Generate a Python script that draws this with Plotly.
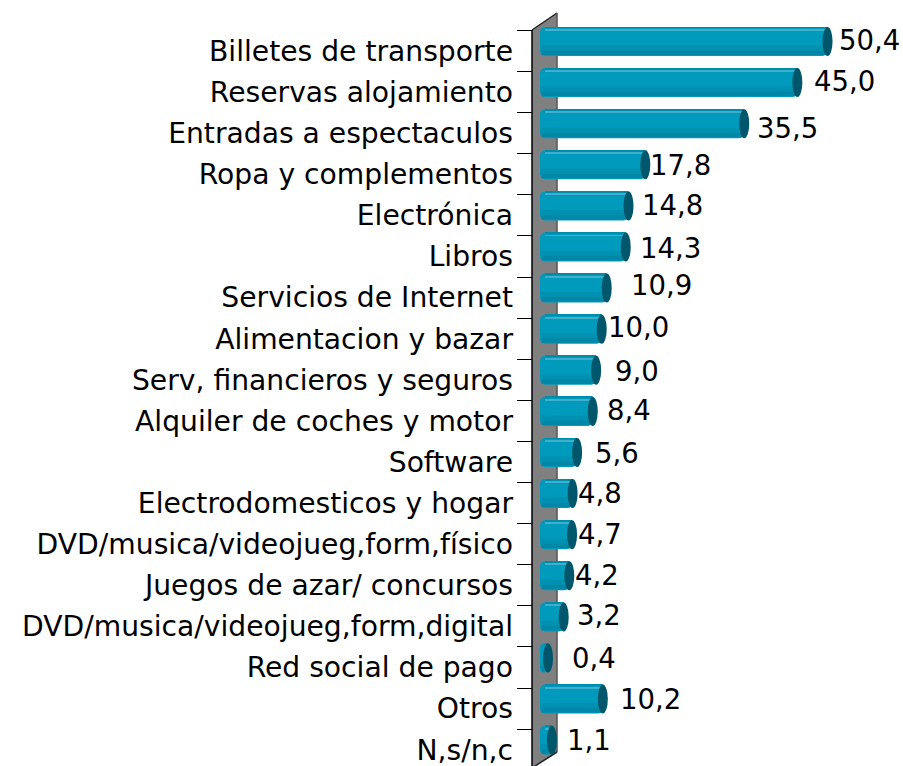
import plotly.graph_objects as go

categories = ["Billetes de transporte", "Reservas alojamiento", "Entradas a espectaculos",
              "Ropa y complementos", "Electrónica", "Libros", "Servicios de Internet",
              "Alimentacion y bazar", "Serv, financieros y seguros", "Alquiler de coches y motor",
              "Software", "Electrodomesticos y hogar", "DVD/musica/videojueg,form,físico",
              "Juegos de azar/ concursos", "DVD/musica/videojueg,form,digital",
              "Red social de pago", "Otros", "N,s/n,c"]
values = [50.4, 45.0, 35.5, 17.8, 14.8, 14.3, 10.9, 10.0, 9.0, 8.4, 5.6, 4.8, 4.7, 4.2, 3.2, 0.4, 10.2, 1.1]

# label nudges in pixels (hand placed in the original chart)
label_dx = [10, 16.1, 11.3, 3.2, 12, 12.8, 22.8, 4.8, 17.4, 13.7, 16.4, 3.9, 5.4, 5.2, 12.8, 22.5, 15.7, 14.5]
label_dy = [-1.5, -1.5, 4, 0, -1, 1, -3, -2, 1, -1, 0, -0.6, -1, -1, -2, 0, 0, 0]

OFF = 0                    # body margin is removed below
W, H = 903, 766
X0, PXU = 545.8 - OFF, 5.59      # pixel of value 0, pixels per unit
BAND = 41.1
BAR_Y0, LAB_Y0 = 41.5 - OFF, 51.0 - OFF
BAR_H = 29.0
FONT = "DejaVu Sans"
FONT_SIZE = 28.2

def px(x):
    return (x - OFF) / W
def py(y):
    return 1 - (y - OFF) / H

idx = list(range(len(categories)))
fig = go.Figure()
base = (540 - OFF - X0) / PXU

def band(top, bottom, color, corner=0, start=base):
    fig.add_trace(go.Bar(
        y=idx, x=[v - start for v in values], base=start, orientation="h", yaxis="y2",
        width=(bottom - top) / BAND, offset=top / BAND,
        marker=dict(color=color, line_width=0, cornerradius=corner),
        hoverinfo="skip", showlegend=False))

band(-14.5, 14.5, "#009ABC", corner=5)
band(4, 9, "#0090B0", start=base + 0.1)
band(9, 13.5, "#0086A6", start=base + 0.3)
band(-14.5, -13.5, "#008CAC", start=base + 0.9)
band(-12, -11, "#3FAFCB", start=base + 0.9)

# invisible trace carrying the category axis
fig.add_trace(go.Scatter(x=values, y=categories, mode="none", yaxis="y", showlegend=False, hoverinfo="skip"))

shapes = [
    dict(type="path", xref="paper", yref="paper", layer="below",
         path=f"M {px(532)} {py(30)} L {px(557)} {py(13)} L {px(557)} {py(752)} L {px(532)} {py(768)} Z",
         fillcolor="#808080", line=dict(width=0)),
    dict(type="line", xref="paper", yref="paper", layer="below",
         x0=px(532), y0=py(30), x1=px(557), y1=py(13), line=dict(color="#222222", width=1.5)),
    dict(type="line", xref="paper", yref="paper", layer="below",
         x0=px(532), y0=py(30), x1=px(532), y1=py(768), line=dict(color="#000000", width=1.5)),
    dict(type="line", xref="paper", yref="paper", layer="below",
         x0=px(557), y0=py(13), x1=px(557), y1=py(752), line=dict(color="#555555", width=1.5)),
    dict(type="line", xref="paper", yref="paper", layer="below",
         x0=px(532), y0=py(768), x1=px(557), y1=py(752), line=dict(color="#222222", width=1.5)),
]
for i, v in enumerate(values):
    hw = 5.0 / PXU
    hh = 14.5 / BAND
    shapes.append(dict(type="circle", xref="x", yref="y2", layer="above",
                       x0=v - hw, x1=v + hw, y0=i - hh, y1=i + hh,
                       fillcolor="#00566A", line=dict(width=0)))

annotations = []
for i, v in enumerate(values):
    annotations.append(dict(
        x=v, y=i, xref="x", yref="y2", xanchor="left", yanchor="middle",
        text=f"{v:.1f}".replace(".", ","), showarrow=False, borderpad=0,
        xshift=label_dx[i], yshift=-label_dy[i],
        font=dict(family=FONT, size=27.5, color="#000000")))

fig.update_layout(
    width=W, height=H, margin=dict(l=0, r=0, t=0, b=0, pad=0),
    paper_bgcolor="white", plot_bgcolor="white", barmode="overlay",
    showlegend=False, shapes=shapes, annotations=annotations,
    font=dict(family=FONT, color="#000000"),
    xaxis=dict(range=[-X0 / PXU, (W - X0) / PXU], visible=False, fixedrange=True),
    yaxis=dict(type="category", categoryorder="array", categoryarray=categories,
               range=[(H - LAB_Y0) / BAND, -LAB_Y0 / BAND],
               anchor="free", position=px(532), side="left",
               tickson="boundaries", ticks="outside", ticklen=15, tickwidth=1, tickcolor="#000000",
               showline=False, showgrid=False, zeroline=False,
               ticklabelstandoff=19, tickfont=dict(family=FONT, size=FONT_SIZE, color="#000000"),
               automargin=False),
    yaxis2=dict(overlaying="y", range=[(H - BAR_Y0) / BAND, -BAR_Y0 / BAND], visible=False),
)
fig.write_html("out.html", config=dict(displayModeBar=False),
               post_script="document.documentElement.style.overflow='hidden';document.body.style.margin='0';")
